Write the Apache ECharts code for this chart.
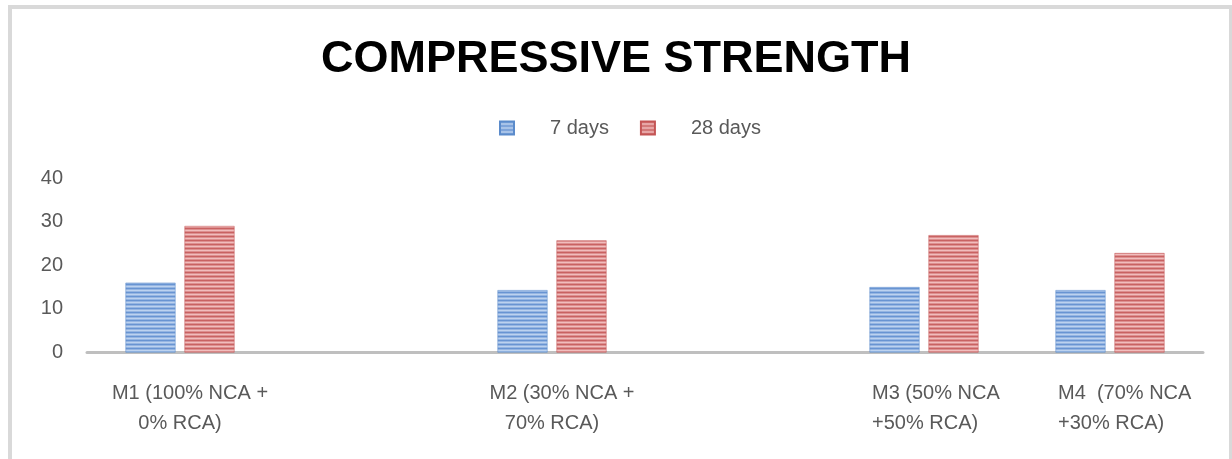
<!DOCTYPE html>
<html>
<head>
<meta charset="utf-8">
<script src="https://cdn.jsdelivr.net/npm/echarts@6/dist/echarts.min.js"></script>
<style>
  html, body { margin: 0; padding: 0; background: #fff; }
  #chart { width: 1232px; height: 459px; }
</style>
</head>
<body>
<div id="chart"></div>
<script>
// categories (two blank slots keep the uneven spacing of the original)
var categories = ['M1 (100% NCA +\n0% RCA)', ' ', 'M2 (30% NCA +\n70% RCA)', '  ', 'M3 (50% NCA\n+50% RCA)', 'M4  (70% NCA\n+30% RCA)'];
var days7 = [16, null, 14.3, null, 15, 14.3];
var days28 = [29, null, 25.7, null, 26.9, 22.8];
var yTicks = [0, 10, 20, 30, 40];

// horizontal stripes like the excel fill
function stripes(cols) {
  var c = document.createElement('canvas');
  c.width = 4; c.height = 4;
  var ctx = c.getContext('2d');
  for (var i = 0; i < 4; i++) {
    ctx.fillStyle = cols[i];
    ctx.fillRect(0, i, 4, 1);
  }
  return { image: c, repeat: 'repeat' };
}
var blueFill = stripes(['#6894d2', '#95b5e2', '#bcd2ef', '#95b5e2']);
var redFill = stripes(['#c96262', '#dd9090', '#f1bdbd', '#dd9090']);

var myChart = echarts.init(document.getElementById('chart'));
var option = {
  backgroundColor: '#fff',
  animation: false,
  graphic: [{
    type: 'rect',
    shape: { x: 10, y: 7, width: 1221, height: 520 },
    style: { fill: 'none', stroke: '#d9d9d9', lineWidth: 4 },
    silent: true
  }],
  title: {
    text: 'COMPRESSIVE STRENGTH',
    left: 'center',
    top: 32,
    textStyle: {
      fontFamily: 'Liberation Sans',
      fontWeight: 'bold',
      fontSize: 45,
      color: '#000'
    }
  },
  legend: {
    data: ['7 days', '28 days'],
    icon: 'rect',
    left: 494,
    top: 113,
    itemWidth: 14,
    itemHeight: 13,
    itemGap: 31,
    textStyle: {
      fontFamily: 'Liberation Sans',
      fontSize: 20,
      color: '#595959',
      padding: [0, 0, 0, 31]
    }
  },
  grid: {
    left: 87,
    right: 29,
    top: 178,
    bottom: 106.5,
    containLabel: false
  },
  xAxis: {
    type: 'category',
    data: categories,
    axisLine: { lineStyle: { color: '#bfbfbf', width: 3 } },
    axisTick: { show: false },
    axisLabel: {
      interval: 0,
      margin: 26,
      fontFamily: 'Liberation Sans',
      fontSize: 20,
      lineHeight: 30,
      color: '#595959',
      formatter: function (val, idx) {
        var lines = val.split('\n');
        if (lines.length < 2) return '';
        if (idx >= 4) return '{l|' + lines[0] + '}\n{l|' + lines[1] + '}';
        return '{a|' + lines[0] + '}\n{b|' + lines[1] + '}';
      },
      rich: {
        a: { fontFamily: 'Liberation Sans', fontSize: 20, lineHeight: 30, color: '#595959', padding: [0, 0, 0, 20] },
        b: { fontFamily: 'Liberation Sans', fontSize: 20, lineHeight: 30, color: '#595959' },
        l: { fontFamily: 'Liberation Sans', fontSize: 20, lineHeight: 30, color: '#595959', width: 104, align: 'left' }
      }
    }
  },
  yAxis: {
    type: 'value',
    min: yTicks[0],
    max: yTicks[yTicks.length - 1],
    interval: 10,
    axisLine: { show: false },
    axisTick: { show: false },
    splitLine: { show: false },
    axisLabel: {
      margin: 24,
      fontFamily: 'Liberation Sans',
      fontSize: 20,
      color: '#595959'
    }
  },
  series: [
    {
      name: '7 days',
      type: 'bar',
      barWidth: 50,
      barGap: '18%',
      data: days7,
      itemStyle: { color: blueFill, borderColor: '#5b8bcb', borderWidth: 0.5 }
    },
    {
      name: '28 days',
      type: 'bar',
      barWidth: 50,
      barGap: '18%',
      data: days28,
      itemStyle: { color: redFill, borderColor: '#c45555', borderWidth: 0.5 }
    }
  ]
};
myChart.setOption(option);
</script>
</body>
</html>
